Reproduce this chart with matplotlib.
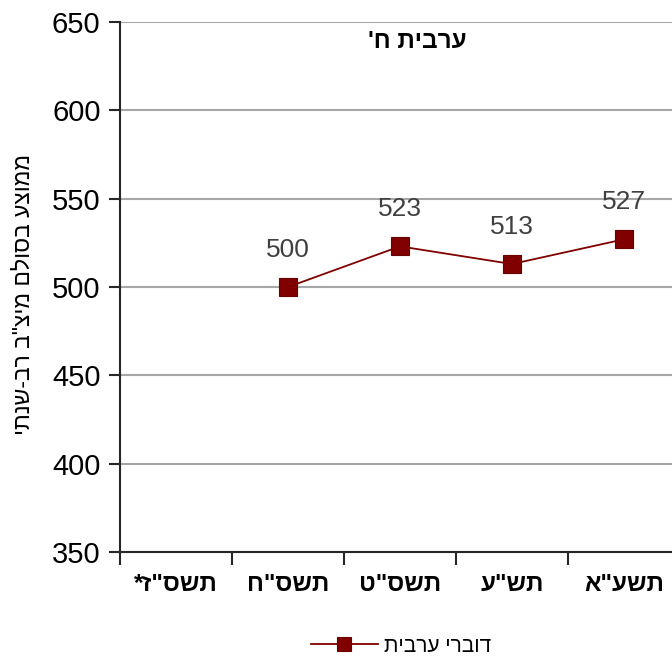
import matplotlib
matplotlib.use("Agg")
import matplotlib.pyplot as plt
from matplotlib.ticker import FixedLocator, NullFormatter

plt.rcParams['font.family'] = ['Liberation Sans', 'DejaVu Sans']

def vis(s):
    # Hebrew logical order -> visual order for left-to-right rendering
    return s[::-1]

categories = ['תשס"ז*', 'תשס"ח', 'תשס"ט', 'תש"ע', 'תשע"א']
series_x = ['תשס"ח', 'תשס"ט', 'תש"ע', 'תשע"א']
series_values = [500, 523, 513, 527]
series_name = 'דוברי ערבית'
title_text = 'ערבית ח\''
ylabel_text = 'ממוצע בסולם מיצ"ב רב-שנתי'
yticks = [350, 400, 450, 500, 550, 600, 650]

W, H = 672, 657
fig = plt.figure(figsize=(W / 100, H / 100), dpi=100)
ax = fig.add_axes([120 / W, 105 / H, 560 / W, 530 / H])

xs = [categories.index(c) for c in series_x]
line, = ax.plot(xs, series_values, color='#800000', lw=1.3, marker='s',
                markersize=12.5, markerfacecolor='#800000', markeredgecolor='#6a0000',
                markeredgewidth=0.8, zorder=3, label=vis(series_name))
for x, v in zip(xs, series_values):
    ax.annotate(str(v), (x, v), xytext=(0, 27), textcoords='offset points',
                ha='center', va='center', fontsize=19, color='#404040')

ax.set_xlim(-0.5, len(categories) - 0.5)
ax.set_ylim(350, 650)
ax.set_yticks(yticks)
ax.set_yticklabels([str(t) for t in yticks], fontsize=21)
ax.yaxis.grid(True, color='#a6a6a6', lw=1.5)
ax.set_axisbelow(True)

ax.set_xticks(range(len(categories)))
ax.set_xticklabels([vis(c) for c in categories], fontsize=17.5, fontweight='bold')
ax.xaxis.set_minor_locator(FixedLocator([i - 0.5 for i in range(len(categories) + 1)]))
ax.xaxis.set_minor_formatter(NullFormatter())
ax.tick_params(axis='x', which='major', length=0, pad=15)
ax.tick_params(axis='x', which='minor', length=9, width=1.5, color='#262626')
ax.tick_params(axis='y', length=8, width=1.5, color='#262626', pad=6)

for s in ['top', 'right']:
    ax.spines[s].set_visible(False)
for s in ['left', 'bottom']:
    ax.spines[s].set_color('#262626')
    ax.spines[s].set_linewidth(1.5)

fig.text(23 / W, 1 - 295 / H, vis(ylabel_text), rotation=90, ha='center', va='center',
         fontsize=16.5)
fig.text(417 / W, 1 - 42 / H, vis(title_text), ha='center', va='center',
         fontsize=17.5, fontweight='bold')

fig.legend(handles=[line], loc='center', bbox_to_anchor=(401 / W, 1 - 646 / H),
           frameon=False, fontsize=15, handlelength=3.2, handletextpad=0.3,
           markerscale=0.8)

fig.savefig('out.png', dpi=100)
